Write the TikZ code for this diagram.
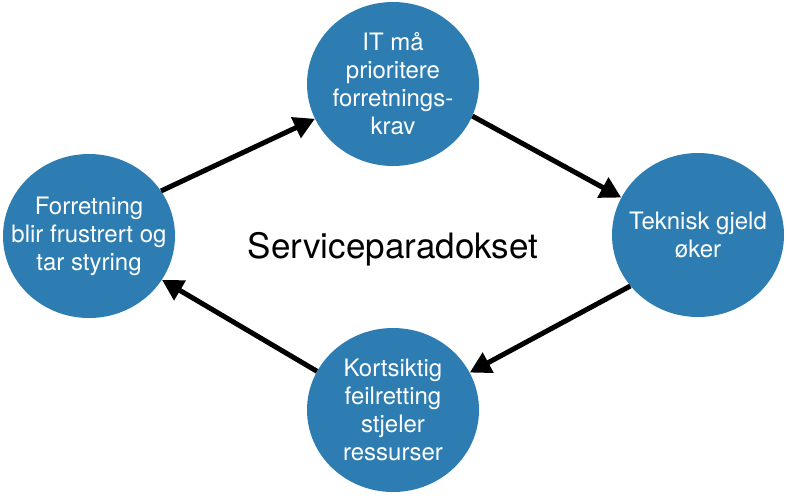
\documentclass[tikz,border=0pt]{standalone}
\usepackage{fontspec}
\setmainfont{TeX Gyre Heros}
\usetikzlibrary{shapes.geometric,arrows.meta}
\definecolor{cycleblue}{RGB}{46,125,178}
\tikzset{
  bubble/.style={ellipse, fill=cycleblue, draw=none, minimum width=172pt, minimum height=164pt,
    inner xsep=-30pt, inner ysep=-15pt, text=white, align=center, font=\fontsize{24}{28}\selectfont},
  cyclearrow/.style={line width=5pt, black, -{Triangle[length=21pt,width=22pt]}},
  title/.style={font=\fontsize{35}{40}\selectfont, text=black}
}
\begin{document}
\begin{tikzpicture}[x=1pt,y=-1pt]
\useasboundingbox (0,0) rectangle (787,499);
\node[bubble] (top) at (393,84) {IT må\\prioritere\\forretnings-\\krav};
\node[bubble] (right) at (698,235) {Teknisk gjeld\\øker};
\node[bubble] (bottom) at (393,410) {Kortsiktig\\feilretting\\stjeler\\ressurser};
\node[bubble] (left) at (89,236) {Forretning\\blir frustrert og\\tar styring};
\node[title] (center) at (393,249) {Serviceparadokset};
\draw[cyclearrow] (left.32) -- (top.204);
\draw[cyclearrow] (top.338) -- (right.154);
\draw[cyclearrow] (right.217) -- (bottom.26);
\draw[cyclearrow] (bottom.153) -- (left.329);
\end{tikzpicture}
\end{document}
